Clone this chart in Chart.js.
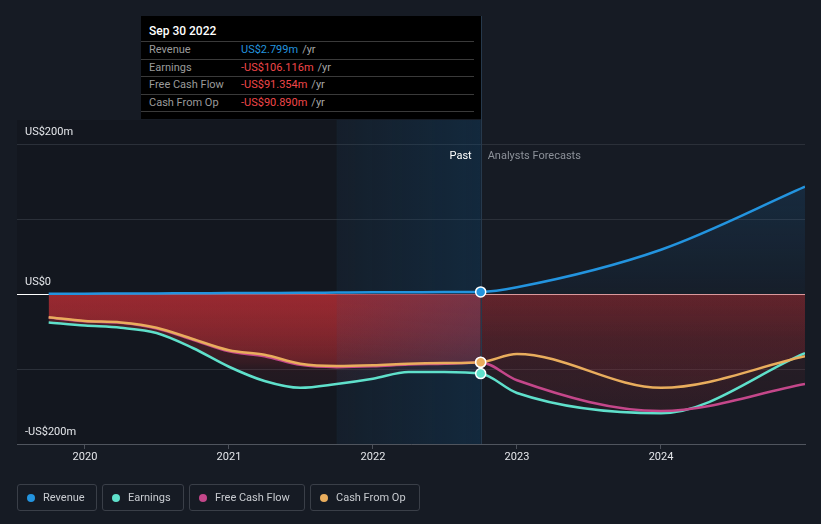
<!DOCTYPE html>
<html><head><meta charset="utf-8">
<script src="https://cdn.jsdelivr.net/npm/chart.js@4.4.1/dist/chart.umd.min.js"></script>
<style>
html,body{margin:0;padding:0;background:#161b24;}
#wrap{position:relative;width:821px;height:524px;overflow:hidden;font-family:Roboto,"Noto Sans",sans-serif;}
#c{position:absolute;left:0;top:0;}
#tip{position:absolute;left:141px;top:16px;width:340px;height:103px;background:#000;font-size:11px;}
#tip .t{padding:6px 0 0 8px;height:19px;line-height:19px;color:#fff;font-size:12px;font-weight:500;}
#tip .r{margin-right:7px;border-top:1px solid #3a3a3a;height:16.5px;line-height:16.5px;display:flex;}
#tip .r.last{border-bottom:1px solid #3a3a3a;}
#tip .l{width:92px;padding-left:8px;color:#9b9b9b;}
#tip .u{color:#a6a6a6;margin-left:4px;}
#legend{position:absolute;left:17px;top:484px;display:flex;}
#legend .b{box-sizing:border-box;height:27px;border:1px solid #3a3f48;border-radius:3px;margin-right:5px;display:flex;align-items:center;padding-left:9px;font-size:11px;color:#c8cbd0;}
#legend .d{width:8px;height:8px;border-radius:50%;margin-right:8px;}
</style></head>
<body><div id="wrap"><canvas id="c" width="821" height="524"></canvas><div id="tip"></div><div id="legend"></div></div>
<script>
// ---- data (US$ millions, trailing twelve months / analyst forecasts) ----
const dates = ['2019-09-30','2019-12-31','2020-03-31','2020-06-30','2020-09-30','2020-12-31','2021-03-31','2021-06-30','2021-09-30','2021-12-31','2022-03-31','2022-06-30','2022-09-30','2022-12-31','2023-12-31','2024-12-31'];
const lastActual = '2022-09-30';
const highlightStart = '2021-09-30';
const seriesNames = ['Revenue','Earnings','Free Cash Flow','Cash From Op'];
const revenue  = [0.3, 0.5, 0.6, 0.8, 1.0, 1.2, 1.4, 1.6, 1.9, 2.2, 2.4, 2.6, 2.799, 9, 59, 143];
const earnings = [-38, -42, -45, -52, -72, -97, -116, -125, -120, -113, -104, -104, -106.116, -132, -159, -79];
const fcf      = [-31.5, -36.5, -38.5, -46, -61, -76.5, -83, -94.5, -97.5, -96.5, -94, -93, -91.354, -115, -156, -120];
const cfo      = [-31, -36, -38, -45, -60, -75, -81, -93, -96, -95, -93, -92, -90.890, -80, -125, -83];
const yTickValues = [-200, -100, 0, 100, 200];
const yTickLabels = {'-200':'-US$200m', '0':'US$0', '200':'US$200m'};
const xTickValues = [2020, 2021, 2022, 2023, 2024];
const colors = ['#2394df', '#5fe0cb', '#c4478a', '#e9ad5d'];

// ---- helpers ----
function toYear(s){const [y,m,d]=s.split('-').map(Number);const a=Date.UTC(y,0,1),b=Date.UTC(y+1,0,1);return y+(Date.UTC(y,m-1,d)+86400000-a)/(b-a);}
const xs = dates.map(toYear);
const lastX = toYear(lastActual);
const lastIdx = dates.indexOf(lastActual);
const bandX = toYear(highlightStart);
const isPast = c => c.p1.parsed.x <= lastX + 1e-6;

function vgrad(chart, v0, v1, stops){
  const y = chart.scales.y, g = chart.ctx.createLinearGradient(0, y.getPixelForValue(v0), 0, y.getPixelForValue(v1));
  stops.forEach(s => g.addColorStop(s[0], s[1])); return g;
}
const red = a => 'rgba(180,45,52,' + a + ')';
const blue = a => 'rgba(33,150,243,' + a + ')';
let gradCache = null, gradKey = '';
function grads(ch){
  const a = ch.chartArea, key = a.top + ',' + a.bottom;
  if (!gradCache || key !== gradKey) {
    gradKey = key;
    gradCache = {
      past: vgrad(ch, 0, -200, [[0,red(0.45)],[0.25,red(0.33)],[0.45,red(0.22)],[0.52,red(0.1)],[1,red(0.04)]]),
      fore: vgrad(ch, 0, -200, [[0,red(0.2)],[0.3,red(0.12)],[0.6,red(0.09)],[1,red(0.05)]]),
      blue: vgrad(ch, 143, 0, [[0,blue(0.13)],[1,blue(0.03)]])
    };
  }
  return gradCache;
}

function mk(i, values, order, isRevenue){
  return {
    label: seriesNames[i],
    data: xs.map((x, k) => ({x, y: values[k]})),
    borderColor: colors[i], borderWidth: 2.5,
    cubicInterpolationMode: 'monotone',
    fill: 'origin', order,
    backgroundColor: 'rgba(0,0,0,0)',
    segment: { backgroundColor: c => { const g = grads(c.chart); return isRevenue ? (isPast(c) ? 'rgba(0,0,0,0)' : g.blue) : (isPast(c) ? g.past : g.fore); } },
    pointRadius: c => c.dataIndex === lastIdx ? 5 : 0,
    pointHoverRadius: 0,
    pointBackgroundColor: colors[i], pointBorderColor: '#ffffff', pointBorderWidth: 1.5
  };
}

const deco = {
  id: 'deco',
  beforeDraw(chart){
    const {ctx, chartArea: a, scales: {x}} = chart;
    ctx.save(); ctx.fillStyle = 'rgba(0,0,0,0.13)';
    ctx.fillRect(a.left, a.top, x.getPixelForValue(bandX) - a.left, a.bottom - a.top); ctx.restore();
  },
  beforeDatasetsDraw(chart){
    const {ctx, chartArea: a, scales: {x}} = chart;
    const x0 = x.getPixelForValue(bandX), x1 = x.getPixelForValue(lastX);
    ctx.save();
    const g = ctx.createLinearGradient(x0, 0, x1, 0);
    g.addColorStop(0, 'rgba(10,86,141,0.07)'); g.addColorStop(1, 'rgba(10,86,141,0.24)');
    ctx.fillStyle = g; ctx.fillRect(x0, a.top, x1 - x0, a.bottom - a.top);
    ctx.strokeStyle = '#26394c'; ctx.lineWidth = 1;
    ctx.beginPath(); ctx.moveTo(Math.round(x1) + 0.5, 16); ctx.lineTo(Math.round(x1) + 0.5, a.bottom); ctx.stroke();
    ctx.font = '11px Roboto'; ctx.textBaseline = 'middle';
    ctx.fillStyle = '#ffffff'; ctx.textAlign = 'right'; ctx.fillText('Past', x1 - 9, 156);
    ctx.fillStyle = '#8c9199'; ctx.textAlign = 'left'; ctx.fillText('Analysts Forecasts', x1 + 7, 156);
    ctx.restore();
  }
};

Chart.defaults.font.family = 'Roboto';
Chart.defaults.font.size = 11;
Chart.defaults.color = '#e4e6ea';

const chart = new Chart(document.getElementById('c'), {
  type: 'line',
  data: { datasets: [mk(0, revenue, 0, true), mk(1, earnings, 3), mk(2, fcf, 2), mk(3, cfo, 1)] },
  options: {
    responsive: false, animation: false, events: [],
    layout: { padding: { left: 1, right: 16, top: 120, bottom: 57.8 } },
    plugins: { legend: { display: false }, tooltip: { enabled: false }, filler: { drawTime: 'beforeDatasetsDraw' } },
    scales: {
      x: {
        type: 'linear', min: 2019.528, max: 2025.0,
        afterBuildTicks: ax => { ax.ticks = xTickValues.map(v => ({value: v})); },
        ticks: { padding: 2, color: '#e4e6ea', callback: v => String(v) },
        grid: { drawOnChartArea: false, drawTicks: true, tickLength: 5, color: '#4b5059' },
        border: { color: '#50555e' }
      },
      y: {
        type: 'linear', min: -200, max: 232,
        afterBuildTicks: ax => { ax.ticks = yTickValues.map(v => ({value: v})); },
        ticks: { mirror: true, padding: 8, labelOffset: -12, color: '#e4e6ea', callback: v => yTickLabels[String(v)] || '' },
        grid: { drawTicks: false, color: c => c.tick && c.tick.value === 0 ? '#ffffff' : '#2b3039' },
        border: { display: false }
      }
    }
  },
  plugins: [deco]
});

// ---- tooltip box ----
const months = ['Jan','Feb','Mar','Apr','May','Jun','Jul','Aug','Sep','Oct','Nov','Dec'];
const [ly, lm, ld] = lastActual.split('-').map(Number);
const fmt = v => (v < 0 ? '-US$' : 'US$') + Math.abs(v).toFixed(3) + 'm';
const allSeries = [revenue, earnings, fcf, cfo];
let html = '<div class="t">' + months[lm-1] + ' ' + ld + ' ' + ly + '</div>';
allSeries.forEach((s, i) => {
  const v = s[lastIdx];
  html += '<div class="r' + (i === 3 ? ' last' : '') + '"><span class="l">' + seriesNames[i] + '</span><span style="color:' + (v < 0 ? '#f0474a' : '#2394df') + '">' + fmt(v) + '</span><span class="u">/yr</span></div>';
});
document.getElementById('tip').innerHTML = html;

// ---- legend ----
const legendWidths = [80, 82, 116, 110];
document.getElementById('legend').innerHTML = seriesNames.map((n, i) =>
  '<div class="b" style="width:' + legendWidths[i] + 'px"><span class="d" style="background:' + colors[i] + '"></span>' + n + '</div>').join('');
</script></body></html>
